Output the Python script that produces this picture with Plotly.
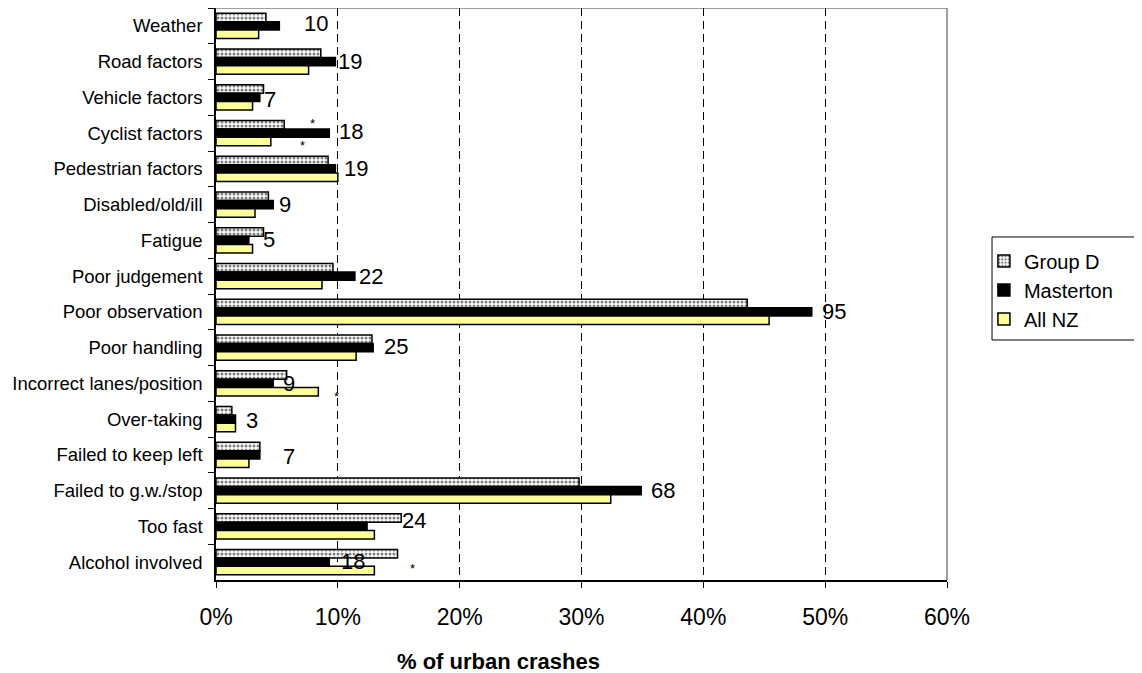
import plotly.graph_objects as go

categories = ["Weather", "Road factors", "Vehicle factors", "Cyclist factors",
              "Pedestrian factors", "Disabled/old/ill", "Fatigue", "Poor judgement",
              "Poor observation", "Poor handling", "Incorrect lanes/position",
              "Over-taking", "Failed to keep left", "Failed to g.w./stop",
              "Too fast", "Alcohol involved"]

group_d = [4.1, 8.6, 3.9, 5.6, 9.2, 4.3, 3.9, 9.6, 43.6, 12.8, 5.8, 1.3, 3.6, 29.8, 15.2, 14.9]
masterton = [5.2, 9.8, 3.6, 9.3, 9.8, 4.7, 2.7, 11.4, 48.9, 12.9, 4.7, 1.6, 3.6, 34.9, 12.4, 9.3]
all_nz = [3.5, 7.6, 3.0, 4.5, 10.0, 3.2, 3.0, 8.7, 45.4, 11.5, 8.4, 1.6, 2.7, 32.4, 13.0, 13.0]

masterton_counts = ["10", "19", "7", "18", "19", "9", "5", "22", "95", "25", "9", "3", "7", "68", "24", "18"]

x_ticks = [0, 10, 20, 30, 40, 50, 60]
x_tick_labels = ["0%", "10%", "20%", "30%", "40%", "50%", "60%"]

# pixel offsets for the count labels (style only)
label_xshift = [23, 1, 2, 8, 7, 4, 12, 2, 8, 9, 8, 9, 21, 8, 33, 10]
label_yshift = [2, 0, -2, 2, 0, 0, 1, 0, 0, 1, 0, -1, -2, 0, 6, 1]

# significance asterisks: (category, x value %, yshift px)
star_cats = ["Cyclist factors", "Cyclist factors", "Incorrect lanes/position", "Alcohol involved"]
star_x = [7.95, 7.1, 9.9, 16.1]
star_yshift = [10, -12, -13, -6]

FONT = "Liberation Sans, Arial, sans-serif"

fig = go.Figure()
fig.add_trace(go.Bar(
    y=categories, x=group_d, name="Group D", orientation="h", legendgroup="g1",
    marker=dict(color="white", line=dict(color="black", width=1.5),
                pattern=dict(shape=".", fgcolor="black", bgcolor="white", size=4, solidity=0.45)),
))
fig.add_trace(go.Bar(
    y=categories, x=masterton, name="Masterton", orientation="h", legendgroup="g2",
    marker=dict(color="black", line=dict(color="black", width=1.5)),
))
fig.add_trace(go.Bar(
    y=categories, x=all_nz, name="All NZ", orientation="h", legendgroup="g3",
    marker=dict(color="#FFFF99", line=dict(color="black", width=1.5)),
))

for i, c in enumerate(categories):
    fig.add_annotation(x=masterton[i], y=c, text=masterton_counts[i], showarrow=False,
                       xanchor="left", yanchor="middle", xshift=label_xshift[i],
                       yshift=label_yshift[i], font=dict(family=FONT, size=22, color="black"))

for c, xv, ys in zip(star_cats, star_x, star_yshift):
    fig.add_annotation(x=xv, y=c, text="*", showarrow=False, xanchor="center",
                       yanchor="middle", yshift=ys,
                       font=dict(family=FONT, size=13, color="black"))

# axis title (centred on the chart area, as in the original)
fig.add_annotation(xref="paper", yref="paper", x=0.387, y=-0.1425, xanchor="center",
                   yanchor="middle", showarrow=False, text="<b>% of urban crashes</b>",
                   font=dict(family=FONT, size=22, color="black"))

fig.update_layout(
    width=1134, height=665,
    margin=dict(l=208, r=195, t=0, b=93),
    paper_bgcolor="white", plot_bgcolor="white",
    barmode="group", bargap=0.3, bargroupgap=0,
    font=dict(family=FONT, color="black"),
    legend=dict(x=1.0505, xanchor="left", y=0.507, yanchor="middle",
                borderwidth=0, bgcolor="rgba(0,0,0,0)",
                font=dict(family=FONT, size=20, color="black"),
                traceorder="normal", itemwidth=30, tracegroupgap=6),
    showlegend=True,
)

fig.update_xaxes(
    range=[0, 60], tickvals=x_ticks, ticktext=x_tick_labels,
    showgrid=True, gridcolor="black", gridwidth=1, griddash="8px,5px",
    showline=True, linecolor="black", linewidth=1.5,
    ticks="outside", ticklen=6, tickcolor="black", tickwidth=1,
    ticklabelstandoff=10,
    tickfont=dict(family=FONT, size=23, color="black"),
    zeroline=False,
)
fig.update_yaxes(
    autorange="reversed", type="category",
    showgrid=False, showline=True, linecolor="black", linewidth=1.5,
    ticks="outside", ticklen=6, tickcolor="black", tickson="boundaries",
    ticklabelstandoff=8,
    tickfont=dict(family=FONT, size=18.5, color="black"),
)

fig.add_shape(type="line", xref="paper", yref="paper", x0=0, x1=1, y0=1, y1=1,
              line=dict(color="#808080", width=1.5), layer="below")
fig.add_shape(type="line", xref="paper", yref="paper", x0=1, x1=1, y0=0, y1=1,
              line=dict(color="#808080", width=1.5), layer="below")
# legend frame
fig.add_shape(type="rect", xref="paper", yref="paper", x0=1.0616, x1=1.2654,
              y0=0.4196, y1=0.5997, line=dict(color="black", width=1), layer="above")

fig.write_html("out.html")
